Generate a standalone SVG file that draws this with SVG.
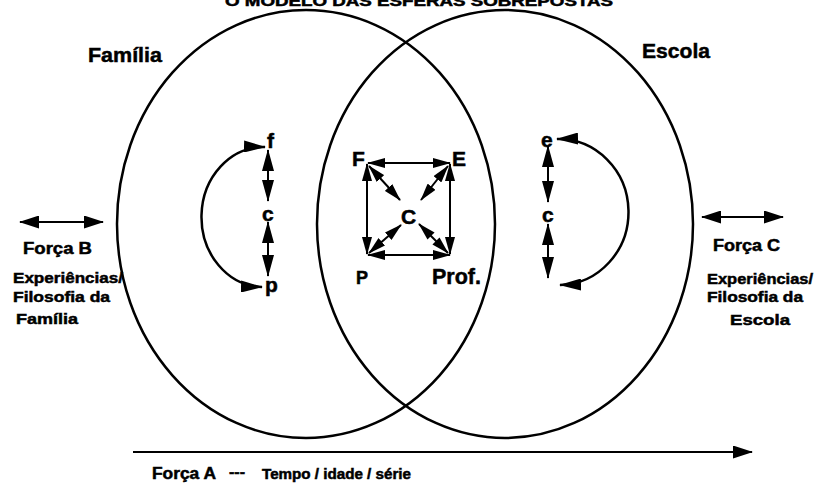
<svg xmlns="http://www.w3.org/2000/svg" width="815" height="488" viewBox="0 0 815 488">
<style>
text{font-family:"Liberation Sans",Arial,Helvetica,sans-serif;font-weight:bold;fill:#000;stroke:#000;stroke-width:0.5}
.sph{fill:none;stroke:#000;stroke-width:2.5}
.ln{fill:none;stroke:#000;stroke-width:2}
.arc{fill:none;stroke:#000;stroke-width:2.5}
</style>
<defs>
<marker id="hv" viewBox="0 0 22 12" refX="21" refY="6" markerWidth="22" markerHeight="12" markerUnits="userSpaceOnUse" orient="auto-start-reverse"><path d="M0,0 L22,6 L0,12 z"/></marker>
<marker id="hs" viewBox="0 0 18 10" refX="17" refY="5" markerWidth="18" markerHeight="10" markerUnits="userSpaceOnUse" orient="auto-start-reverse"><path d="M0,0 L18,5 L0,10 z"/></marker>
<marker id="hb" viewBox="0 0 20 13" refX="19" refY="6.5" markerWidth="20" markerHeight="13" markerUnits="userSpaceOnUse" orient="auto-start-reverse"><path d="M0,0 L20,6.5 L0,13 z"/></marker>
</defs>

<text id="title" x="225" y="6" font-size="14" textLength="388" lengthAdjust="spacingAndGlyphs">O MODELO DAS ESFERAS SOBREPOSTAS</text>

<g id="familia">
<ellipse class="sph" cx="306" cy="224" rx="189" ry="214"/>
<text x="88" y="62" font-size="21" textLength="74" lengthAdjust="spacingAndGlyphs">Família</text>
</g>
<g id="escola">
<ellipse class="sph" cx="505" cy="224" rx="188" ry="214"/>
<text x="642" y="58" font-size="21" textLength="68" lengthAdjust="spacingAndGlyphs">Escola</text>
</g>

<g id="node-f"><text x="267" y="148" font-size="21">f</text></g>
<g id="node-c-left"><text x="262" y="221" font-size="21">c</text></g>
<g id="node-p"><text x="265" y="292" font-size="21">p</text></g>
<g id="node-e"><text x="541" y="147" font-size="21">e</text></g>
<g id="node-c-right"><text x="542" y="222" font-size="21">c</text></g>

<g id="node-F"><text x="352" y="166" font-size="21">F</text></g>
<g id="node-E"><text x="452" y="166" font-size="21">E</text></g>
<g id="node-C"><text x="401" y="224" font-size="21">C</text></g>
<g id="node-P"><text x="356" y="284" font-size="18">P</text></g>
<g id="node-Prof"><text x="432" y="284" font-size="22" textLength="49" lengthAdjust="spacingAndGlyphs">Prof.</text></g>

<g id="forca-b">
<text x="23" y="254" font-size="16" textLength="69" lengthAdjust="spacingAndGlyphs">Força B</text>
<text x="13" y="283" font-size="15" textLength="110" lengthAdjust="spacingAndGlyphs">Experiências/</text>
<text x="13" y="302" font-size="15" textLength="97" lengthAdjust="spacingAndGlyphs">Filosofia  da</text>
<text x="16" y="324" font-size="15" textLength="62" lengthAdjust="spacingAndGlyphs">Família</text>
</g>
<g id="forca-c">
<text x="713" y="251" font-size="16" textLength="67" lengthAdjust="spacingAndGlyphs">Força C</text>
<text x="707" y="284" font-size="15" textLength="106" lengthAdjust="spacingAndGlyphs">Experiências/</text>
<text x="707" y="302" font-size="15" textLength="96" lengthAdjust="spacingAndGlyphs">Filosofia  da</text>
<text x="730" y="325" font-size="15" textLength="60" lengthAdjust="spacingAndGlyphs">Escola</text>
</g>
<g id="forca-a">
<text x="152" y="479" font-size="16" textLength="64" lengthAdjust="spacingAndGlyphs">Força A</text>
<text x="229" y="477" font-size="15" textLength="16" lengthAdjust="spacingAndGlyphs">---</text>
<text x="262" y="479" font-size="14" textLength="149" lengthAdjust="spacingAndGlyphs">Tempo / idade / série</text>
</g>

<g id="connectors">
<line class="ln" x1="268" y1="150" x2="268" y2="201" marker-start="url(#hv)" marker-end="url(#hv)"/>
<line class="ln" x1="268" y1="222" x2="268" y2="276" marker-start="url(#hv)" marker-end="url(#hv)"/>
<line class="ln" x1="548" y1="146" x2="548" y2="202" marker-start="url(#hv)" marker-end="url(#hv)"/>
<line class="ln" x1="548" y1="224" x2="548" y2="278" marker-start="url(#hv)" marker-end="url(#hv)"/>
<path class="arc" d="M265,147 A62,70 0 0 0 262,287" marker-start="url(#hv)" marker-end="url(#hv)"/>
<path class="arc" d="M557,139 A70,73 0 0 1 560,285" marker-start="url(#hv)" marker-end="url(#hv)"/>
<line class="ln" x1="368" y1="163" x2="450" y2="163" marker-start="url(#hs)" marker-end="url(#hs)"/>
<line class="ln" x1="368" y1="255" x2="450" y2="255" marker-start="url(#hs)" marker-end="url(#hs)"/>
<line class="ln" x1="367" y1="164" x2="367" y2="254" marker-start="url(#hs)" marker-end="url(#hs)"/>
<line class="ln" x1="450" y1="164" x2="450" y2="254" marker-start="url(#hs)" marker-end="url(#hs)"/>
<line class="ln" x1="369" y1="166" x2="400" y2="200" marker-start="url(#hs)" marker-end="url(#hs)"/>
<line class="ln" x1="448" y1="166" x2="421" y2="200" marker-start="url(#hs)" marker-end="url(#hs)"/>
<line class="ln" x1="369" y1="253" x2="401" y2="225" marker-start="url(#hs)" marker-end="url(#hs)"/>
<line class="ln" x1="448" y1="253" x2="419" y2="224" marker-start="url(#hs)" marker-end="url(#hs)"/>
<line class="ln" x1="20" y1="222" x2="103" y2="222" marker-start="url(#hb)" marker-end="url(#hb)"/>
<line class="ln" x1="702" y1="217" x2="783" y2="217" marker-start="url(#hb)" marker-end="url(#hb)"/>
<line class="ln" x1="133" y1="452" x2="752" y2="452" stroke-width="2.5" marker-end="url(#hb)"/>
</g>
</svg>
